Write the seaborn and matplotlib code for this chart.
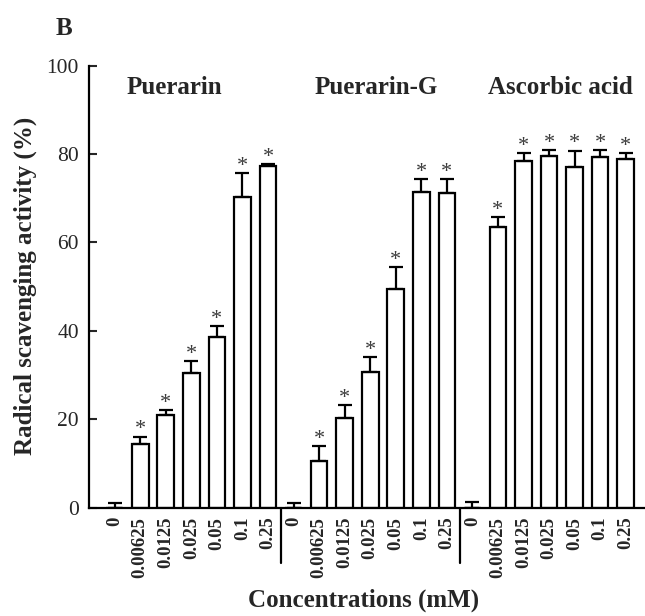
import matplotlib
matplotlib.use("Agg")
import matplotlib.pyplot as plt
import matplotlib.transforms as mtransforms
import numpy as np
import pandas as pd
import seaborn as sns

# Concentrations (mM) tested for every compound
concentrations = ["0", "0.00625", "0.0125", "0.025", "0.05", "0.1", "0.25"]
groups = ["Puerarin", "Puerarin-G", "Ascorbic acid"]

# Radical scavenging activity (%) and standard deviation per concentration
puerarin = [0.0, 14.4, 21.0, 30.4, 38.7, 70.4, 77.2]
puerarin_err = [1.1, 1.7, 1.0, 2.7, 2.5, 5.3, 0.6]
puerarin_g = [0.0, 10.6, 20.2, 30.8, 49.5, 71.5, 71.3]
puerarin_g_err = [1.0, 3.4, 3.0, 3.2, 5.0, 2.8, 3.0]
ascorbic = [0.0, 63.6, 78.4, 79.6, 77.0, 79.4, 79.0]
ascorbic_err = [1.2, 2.2, 1.8, 1.3, 3.8, 1.5, 1.3]

# significance marks versus the untreated control
signif = ["", "*", "*", "*", "*", "*", "*"]

sns.set_style("ticks")
plt.rcParams["font.family"] = ["Liberation Serif", "DejaVu Serif"]
plt.rcParams["mathtext.fontset"] = "custom"

rows = []
for g, vals, errs in zip(groups,
                         [puerarin, puerarin_g, ascorbic],
                         [puerarin_err, puerarin_g_err, ascorbic_err]):
    for c, v, e, s in zip(concentrations, vals, errs, signif):
        rows.append({"group": g, "conc": c, "key": f"{g}|{c}",
                     "value": v, "err": e, "sig": s})
df = pd.DataFrame(rows)
order = list(df["key"])

fig = plt.figure(figsize=(6.45, 6.16), dpi=100)
ax = fig.add_axes([88.5 / 645, (616 - 507.7) / 616, 556.5 / 645, 442 / 616])

sns.barplot(data=df, x="key", y="value", order=order, ax=ax,
            color="white", edgecolor="black", linewidth=1.6,
            width=0.65, errorbar=None, saturation=1)

xpos = np.arange(len(df))
ax.errorbar(xpos, df["value"], yerr=[np.zeros(len(df)), df["err"]],
            fmt="none", ecolor="black", elinewidth=1.6, capsize=4.7,
            capthick=1.6, zorder=3)

for x, (v, e, s) in enumerate(zip(df["value"], df["err"], df["sig"])):
    if s:
        ax.annotate(s, (x, v + e), xytext=(0, 1.5), textcoords="offset points",
                    ha="center", va="baseline", fontsize=16, color="#3a3a3a")

ax.set_xlim(-1.025, 20.755)
ax.set_ylim(0, 100)
ax.set_yticks([0, 20, 40, 60, 80, 100])
ax.set_xticks(xpos)
ax.set_xticklabels(list(df["conc"]), rotation=90, fontsize=13.5,
                   fontweight="bold", va="top")
ax.tick_params(axis="x", length=0, pad=6.5)
ax.tick_params(axis="y", direction="in", length=5.5, width=1.5,
               labelsize=15.5, pad=7)

sns.despine(ax=ax)
for side in ("left", "bottom"):
    ax.spines[side].set_linewidth(1.6)
    ax.spines[side].set_color("black")

# separators between the compound groups, extending through the tick labels
trans = mtransforms.blended_transform_factory(ax.transData, ax.transAxes)
for xd in (6.5, 13.5):
    ax.plot([xd, xd], [0, -0.126], transform=trans, color="black",
            lw=1.6, clip_on=False)

# group titles
for g, xc in zip(groups, [2.35, 10.25, 17.46]):
    ax.text(xc, 95, g, ha="center", va="center", fontsize=18,
            fontweight="bold")

ax.set_xlabel("Concentrations (mM)", fontsize=18, fontweight="bold")
ax.xaxis.set_label_coords(0.495, -0.209)
ax.xaxis.label.set_va("center")
ax.set_ylabel("Radical scavenging activity (%)", fontsize=18,
              fontweight="bold")
ax.yaxis.set_label_coords(-0.114, 0.502)
ax.yaxis.label.set_va("center")

fig.text(64.5 / 645, 1 - 28.5 / 616, "B", ha="center", va="center",
         fontsize=18, fontweight="bold")

fig.savefig("out.png", dpi=100, facecolor="white")
